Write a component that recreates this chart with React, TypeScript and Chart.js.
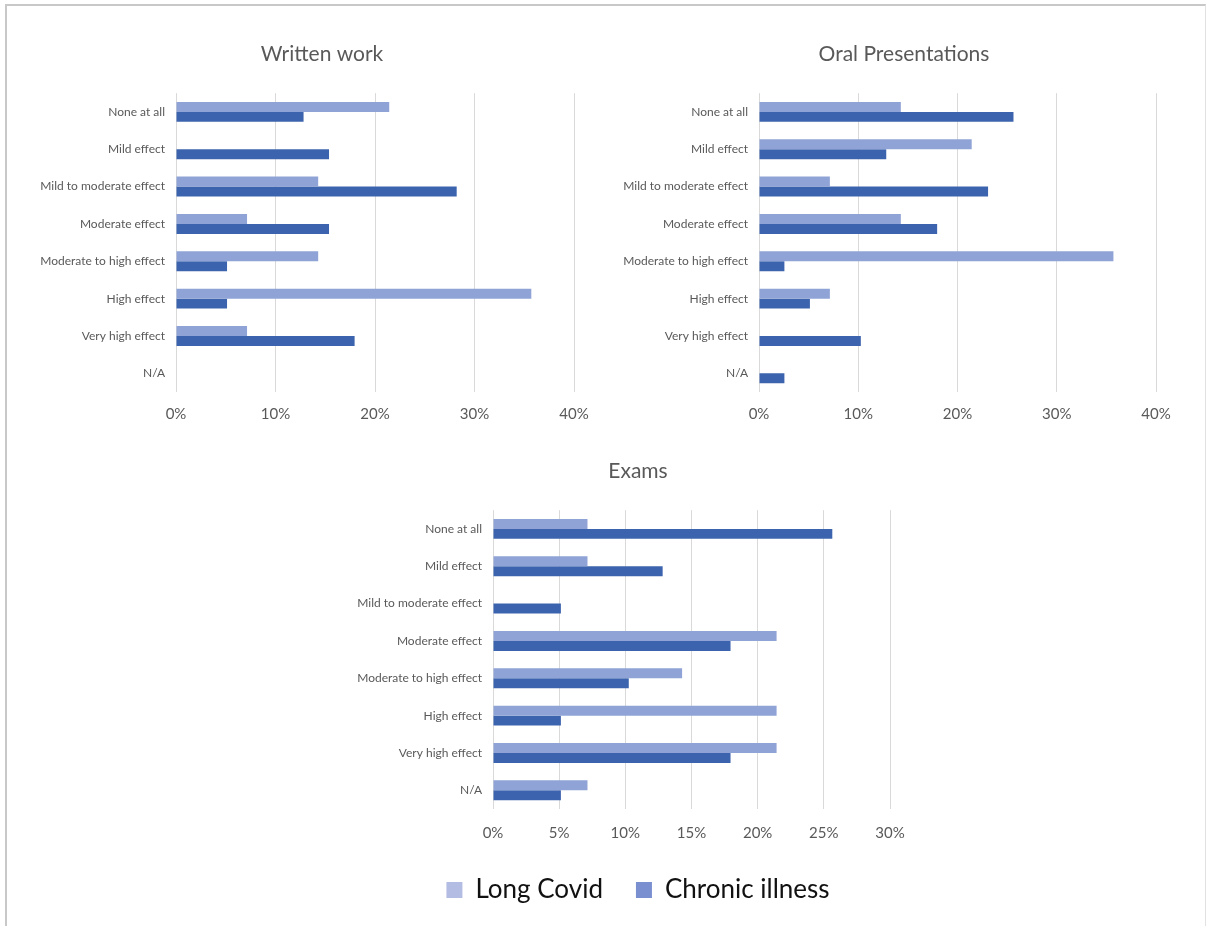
import React, { useEffect, useRef } from "react";
import { Chart, registerables } from "chart.js";

Chart.register(...registerables);

const categories = [
  "None at all",
  "Mild effect",
  "Mild to moderate effect",
  "Moderate effect",
  "Moderate to high effect",
  "High effect",
  "Very high effect",
  "N/A",
];
const seriesNames = ["Long Covid", "Chronic illness"];

const writtenLongCovid = [21.43, 0, 14.29, 7.14, 14.29, 35.71, 7.14, 0];
const writtenChronic = [12.82, 15.38, 28.21, 15.38, 5.13, 5.13, 17.95, 0];

const oralLongCovid = [14.29, 21.43, 7.14, 14.29, 35.71, 7.14, 0, 0];
const oralChronic = [25.64, 12.82, 23.08, 17.95, 2.56, 5.13, 10.26, 2.56];

const examsLongCovid = [7.14, 7.14, 0, 21.43, 14.29, 21.43, 21.43, 7.14];
const examsChronic = [25.64, 12.82, 5.13, 17.95, 10.26, 5.13, 17.95, 5.13];

const FONT = "Lato";
const LC_BAR = "#8FA3D6";
const CI_BAR = "#3C63AD";
const LC_LEGEND = "#B3BCE2";
const CI_LEGEND = "#7A8FD0";
const GRID = "#D9D9D9";
const TEXT = "#595959";

type PanelProps = {
  title: string;
  lc: number[];
  ci: number[];
  max: number;
  step: number;
  left: number;
  top: number;
  width: number;
  height: number;
  yWidth: number;
  rightSpace: number;
  titleTop: number;
  titleBottom: number;
  xHeight: number;
  xPad: number;
  legend?: boolean;
};

function Panel(p: PanelProps) {
  const ref = useRef<HTMLCanvasElement | null>(null);
  useEffect(() => {
    if (!ref.current) return;
    const chart = new Chart(ref.current, {
      type: "bar",
      data: {
        labels: categories,
        datasets: [
          {
            label: seriesNames[0],
            data: p.lc,
            backgroundColor: LC_BAR,
            borderWidth: 0,
            categoryPercentage: 0.535,
            barPercentage: 1,
          },
          {
            label: seriesNames[1],
            data: p.ci,
            backgroundColor: CI_BAR,
            borderWidth: 0,
            categoryPercentage: 0.535,
            barPercentage: 1,
          },
        ],
      },
      options: {
        indexAxis: "y",
        responsive: false,
        animation: false,
        devicePixelRatio: 1,
        layout: { padding: 0 },
        plugins: {
          tooltip: { enabled: false },
          title: {
            display: true,
            text: p.title,
            color: TEXT,
            font: { family: FONT, size: 21, weight: "normal" },
            padding: { top: p.titleTop, bottom: p.titleBottom },
          },
          legend: {
            display: !!p.legend,
            position: "bottom",
            labels: {
              color: "#111111",
              font: { family: FONT, size: 26 },
              boxWidth: 16,
              boxHeight: 16,
              padding: 33,
              generateLabels: () => [
                {
                  text: seriesNames[0],
                  fillStyle: LC_LEGEND,
                  strokeStyle: LC_LEGEND,
                  lineWidth: 0,
                  fontColor: "#111111",
                  datasetIndex: 0,
                },
                {
                  text: seriesNames[1],
                  fillStyle: CI_LEGEND,
                  strokeStyle: CI_LEGEND,
                  lineWidth: 0,
                  fontColor: "#111111",
                  datasetIndex: 1,
                },
              ],
            },
          },
        },
        scales: {
          x: {
            min: 0,
            max: p.max,
            ticks: {
              stepSize: p.step,
              color: TEXT,
              font: { family: FONT, size: 15 },
              padding: p.xPad,
              callback: (v: any) => v + "%",
            },
            grid: { color: GRID, lineWidth: 1, drawTicks: false },
            border: { display: false },
            afterFit: (s: any) => {
              s.height = p.xHeight;
            },
          },
          y: {
            ticks: {
              color: TEXT,
              font: { family: FONT, size: 12 },
              padding: 11,
              autoSkip: false,
            },
            grid: { display: false, drawTicks: false },
            border: { display: false },
            afterFit: (s: any) => {
              s.width = p.yWidth;
            },
          },
          yRight: {
            type: "category",
            position: "right",
            labels: categories,
            display: true,
            ticks: { display: false },
            grid: { display: false, drawTicks: false },
            border: { display: false },
            afterFit: (s: any) => {
              s.width = p.rightSpace;
            },
          },
        },
      },
    });
    return () => chart.destroy();
  }, []);
  return (
    <canvas
      ref={ref}
      width={p.width}
      height={p.height}
      style={{
        position: "absolute",
        left: p.left,
        top: p.top,
        width: p.width,
        height: p.height,
      }}
    />
  );
}

export default function App() {
  return (
    <div
      style={{
        position: "absolute",
        left: 0,
        top: 0,
        width: 1207,
        height: 926,
        overflow: "hidden",
        background: "#ffffff",
      }}
    >
      <div
        style={{
          position: "absolute",
          left: 5,
          top: 4,
          width: 1198,
          height: 930,
          borderTop: "2px solid #C8C8C8",
          borderLeft: "2px solid #C8C8C8",
          borderRight: "1px solid #E2E2E2",
        }}
      />
      <Panel
        title="Written work"
        lc={writtenLongCovid}
        ci={writtenChronic}
        max={40}
        step={10}
        left={30}
        top={30}
        width={584}
        height={402}
        yWidth={146}
        rightSpace={40}
        titleTop={12}
        titleBottom={26}
        xHeight={40}
        xPad={13}
      />
      <Panel
        title="Oral Presentations"
        lc={oralLongCovid}
        ci={oralChronic}
        max={40}
        step={10}
        left={620}
        top={30}
        width={568}
        height={402}
        yWidth={139}
        rightSpace={32}
        titleTop={12}
        titleBottom={26}
        xHeight={40}
        xPad={13}
      />
      <Panel
        title="Exams"
        lc={examsLongCovid}
        ci={examsChronic}
        max={30}
        step={5}
        left={350}
        top={440}
        width={576}
        height={473}
        yWidth={143}
        rightSpace={36}
        titleTop={19}
        titleBottom={26}
        xHeight={35}
        xPad={15}
        legend
      />
    </div>
  );
}
